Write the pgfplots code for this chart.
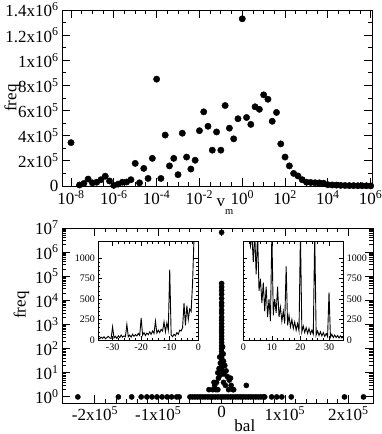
\documentclass[border=0pt]{standalone}
\usepackage{fontspec}
\setmainfont{Liberation Serif}
\usepackage{pgfplots}
\pgfplotsset{compat=1.18}

\newcommand{\bigf}{\fontsize{17}{18}\selectfont}
\newcommand{\smallf}{\fontsize{10}{11}\selectfont}
\newcommand{\sps}[1]{\textsuperscript{#1}}

\pgfplotsset{
  grace/.style={
    scale only axis,
    axis line style={line width=0.9pt},
    tick align=inside,
    major tick length=8pt,
    minor tick length=4pt,
    every tick/.style={black, line width=0.9pt},
    tick label style={font=\bigf},
    label style={font=\bigf},
    scaled ticks=false,
  },
  inset/.style={
    scale only axis,
    axis background/.style={fill=white},
    axis line style={line width=0.7pt},
    tick align=inside,
    major tick length=4pt,
    minor tick length=2pt,
    every tick/.style={black, line width=0.6pt},
    tick label style={font=\smallf},
    xmin=0, xmax=35, ymin=0, ymax=1200,
    ytick={0,250,500,750,1000},
    yticklabels={0,250,500,750,1000},
    minor x tick num=4, minor y tick num=4,
  },
}

% top panel: histogram of v_m (log bins)
\pgfplotstableread{
x freq
1e-8 345000
2.512e-8 8000
3.981e-8 20000
6.310e-8 55000
1e-7 25000
1.585e-7 30000
2.512e-7 50000
3.981e-7 78000
6.310e-7 40000
1e-6 5000
1.585e-6 15000
2.512e-6 30000
3.981e-6 32000
6.310e-6 50000
1e-5 180000
1.585e-5 25000
2.512e-5 140000
3.981e-5 60000
6.310e-5 220000
1e-4 850000
1.585e-4 60000
2.512e-4 405000
3.981e-4 160000
6.310e-4 220000
1e-3 90000
1.585e-3 420000
2.512e-3 230000
3.981e-3 135000
6.310e-3 205000
1e-2 440000
1.585e-2 590000
2.512e-2 475000
3.981e-2 285000
6.310e-2 430000
0.1 285000
0.1585 640000
0.2512 460000
0.3981 375000
0.6310 535000
1 1330000
1.585 545000
2.512 490000
3.981 630000
6.310 610000
10 725000
15.85 690000
25.12 515000
39.81 585000
63.10 335000
100 230000
158.5 160000
251.2 100000
398.1 80000
631.0 50000
1000 30000
1585 28000
2512 26000
3981 25000
6310 22000
10000 10000
15850 8000
25120 7000
39810 5000
63100 4000
100000 3000
158500 3000
251200 2000
398100 2000
631000 2000
1000000 1000
}\vmdata

% bottom panel: histogram of bal
\pgfplotstableread{
x freq
0 6600000
1 50000
-1 36000
2 26000
-2 18000
3 12000
-3 8000
4 6000
-4 4000
5 3000
-5 2000
6 1500
-6 1100
8 800
-8 600
10 450
-10 330
15 250
-15 180
20 130
-20 100
30 75
-30 55
50 40
-50 30
80 22
-80 16
120 12
-150 9
1500 120
2500 60
-3000 45
3000 30
-2000 25
5000 20
-4000 15
7000 12
-6000 10
3500 9
-14000 2
-11000 3
-8000 4
-5000 6
-2500 8
9000 7
12000 5
15000 3
18000 2
-9000 2
6000 3
3000 4
-6000 2
11000 2
-12000 4
14000 6
-20000 2
19000 2
39000 3
-227000 1
-163000 1
-142000 1
-127000 1
-118000 1
-110000 1
-102000 1
-94000 1
-86000 1
-79000 1
-71000 1
-67000 1
-50000 1
-46000 1
-42000 1
-38000 1
-34000 1
-30000 1
-26000 1
-22000 1
-18000 1
-14000 1
-10000 1
-6000 1
-2000 1
2000 1
6000 1
10000 1
14000 1
18000 1
22000 1
26000 1
30000 1
34000 1
38000 1
42000 1
46000 1
50000 1
54000 1
58000 1
62000 1
66000 1
68000 1
79000 1
87000 1
95000 1
110000 1
194000 1
224000 1
}\baldata

\pgfplotstableread{
x freq
-35 30
-34.5 15
-34 35
-33.5 20
-33 40
-32.5 15
-32 30
-31.5 45
-31 25
-30.5 20
-30 160
-29.5 25
-29 45
-28.5 20
-28 50
-27.5 30
-27 60
-26.5 35
-26 50
-25.5 40
-25 190
-24.5 40
-24 60
-23.5 35
-23 70
-22.5 45
-22 65
-21.5 50
-21 80
-20.5 55
-20 270
-19.5 60
-19 90
-18.5 55
-18 85
-17.5 65
-17 100
-16.5 70
-16 110
-15.5 80
-15 230
-14.5 85
-14 120
-13.5 90
-13 130
-12.5 110
-12 220
-11.5 100
-11 210
-10.5 120
-10 860
-9.5 60
-9 40
-8.5 70
-8 50
-7.5 90
-7 70
-6.5 120
-6 110
-5.5 150
-5 450
-4.5 180
-4 420
-3.5 250
-3 380
-2.5 350
-2 700
-1.5 1250
-1 1300
-0.5 1300
0 1300
}\balneg

\pgfplotstableread{
x freq
0 1300
0.5 1300
1 1300
1.5 1300
2 1300
2.5 1150
3 1300
3.5 950
4 1300
4.5 800
5 1300
5.5 600
6 750
6.5 450
7 700
7.5 350
8 650
8.5 280
9 500
9.5 230
10 1300
10.5 300
11 500
11.5 330
12 650
12.5 280
13 400
13.5 230
14 350
14.5 200
15 900
15.5 180
16 300
16.5 160
17 250
17.5 140
18 220
18.5 120
19 200
19.5 110
20 1300
20.5 100
21 170
21.5 90
22 150
22.5 80
23 140
23.5 75
24 120
24.5 70
25 1300
25.5 60
26 110
26.5 55
27 100
27.5 50
28 90
28.5 45
29 80
29.5 40
30 580
30.5 35
31 70
31.5 30
32 60
32.5 30
33 55
33.5 25
34 50
34.5 25
35 40
}\balpos

\begin{document}
\begin{tikzpicture}
\path[use as bounding box] (0,0) rectangle (382pt,434pt);

% ---- top panel
\begin{axis}[grace,
  at={(62pt,248pt)}, anchor=south west,
  width=310pt, height=176pt,
  xmode=log,
  xmin=3.8e-9, xmax=1.15e6,
  ymin=0, ymax=1.4e6,
  xtick={1e-8,1e-6,1e-4,1e-2,1,1e2,1e4,1e6},
  xticklabels={10\sps{-8},10\sps{-6},10\sps{-4},10\sps{-2},10\sps{0},10\sps{2},10\sps{4},10\sps{6}},
  minor xtick={3.1623e-8,1e-7,3.1623e-7,3.1623e-6,1e-5,3.1623e-5,3.1623e-4,1e-3,3.1623e-3,3.1623e-2,0.1,0.31623,3.1623,10,31.623,316.23,1000,3162.3,31623,1e5,316230},
  xticklabel style={yshift=-1pt},
  ytick={0,2e5,4e5,6e5,8e5,1e6,1.2e6,1.4e6},
  yticklabels={0,2x10\sps{5},4x10\sps{5},6x10\sps{5},8x10\sps{5},1x10\sps{6},1.2x10\sps{6},1.4x10\sps{6}},
  minor y tick num=1,
  xlabel={v\raisebox{-8pt}{\fontsize{10.5}{12}\selectfont m}},
  xlabel style={at={(axis description cs:0.498,-0.119)}, anchor=base west, inner sep=0pt},
  ylabel={freq},
  ylabel style={at={(axis description cs:-0.161,0.5)}, anchor=center},
  clip=false,
]
\addplot[only marks, mark=*, mark size=3.2pt, black] table[x=x, y=freq] {\vmdata};
\end{axis}

% ---- bottom panel
\begin{axis}[grace,
  at={(62pt,31pt)}, anchor=south west,
  width=311pt, height=175pt,
  ymode=log,
  xmin=-252000, xmax=239000,
  ymin=0.56, ymax=1e7,
  xtick={-200000,-100000,0,100000,200000},
  xticklabels={-2x10\sps{5},-1x10\sps{5},0,1x10\sps{5},2x10\sps{5}},
  minor x tick num=5,
  ytick={1,10,100,1000,1e4,1e5,1e6,1e7},
  yticklabels={10\sps{0},10\sps{1},10\sps{2},10\sps{3},10\sps{4},10\sps{5},10\sps{6},10\sps{7}},
  xlabel={bal},
  xlabel style={at={(axis description cs:0.588,-0.16)}, anchor=base},
  ylabel={freq},
  ylabel style={at={(axis description cs:-0.13,0.56)}, anchor=center},
]
\addplot[only marks, mark=*, mark size=2.6pt, black] table[x=x, y=freq] {\baldata};
\end{axis}

% ---- insets
\begin{axis}[inset,
  at={(98.3pt,94pt)}, anchor=south west,
  width=100pt, height=98.3pt,
  xmin=-35, xmax=0,
  xtick={-30,-20,-10,0},
  xticklabels={-30,-20,-10,0},
]
\addplot[black, line width=0.9pt] table[x=x, y=freq] {\balneg};
\end{axis}

\begin{axis}[inset,
  at={(243.3pt,94pt)}, anchor=south west,
  width=100pt, height=98.3pt,
  xmin=0, xmax=35,
  xtick={0,10,20,30},
  xticklabels={0,10,20,30},
  yticklabel pos=right,
]
\addplot[black, line width=0.9pt] table[x=x, y=freq] {\balpos};
\end{axis}
\end{tikzpicture}
\end{document}
